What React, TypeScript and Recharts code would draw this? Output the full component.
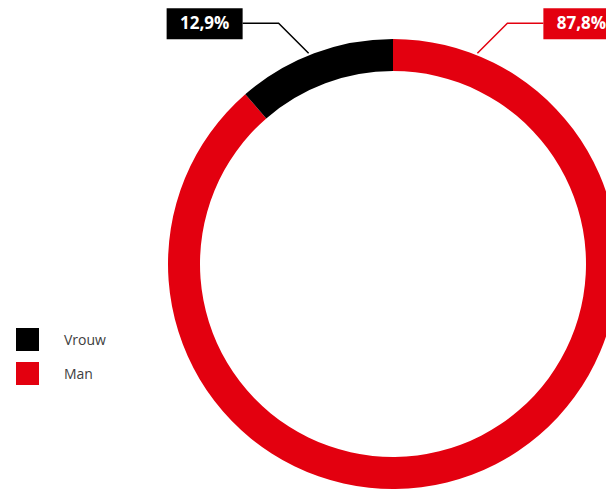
import React from "react";
import { PieChart, Pie, Cell } from "recharts";

const categories = ["Man", "Vrouw"];
// arc sizes as drawn in the picture (percent of the ring)
const values = [88.6, 11.4];
// label texts as printed in the picture
const labelTexts = ["87,8%", "12,9%"];
const colors = ["#E3000F", "#000000"];
const legendOrder = ["Vrouw", "Man"];

const data = categories.map((name, i) => ({ name, value: values[i], label: labelTexts[i] }));

const RAD = Math.PI / 180;

const renderLabel = (props: any) => {
  const { cx, cy, outerRadius, startAngle, endAngle, midAngle, index } = props;
  let a: number;
  if (index === 0) {
    const span = Math.abs(endAngle - startAngle);
    a = startAngle - (360 - span) / 2 - 1.3;
  } else {
    a = midAngle + 1.3;
  }
  const R = outerRadius + 2;
  const px = cx + R * Math.cos(a * RAD);
  const py = cy - R * Math.sin(a * RAD);
  const dir = Math.cos(a * RAD) >= 0 ? 1 : -1;
  const ex = px + dir * 30;
  const ey = py - 30;
  const hx = ex + dir * 36;
  const boxW = 76;
  const boxH = 31;
  const boxX = dir > 0 ? hx : hx - boxW;
  const boxY = ey - 15;
  const col = colors[index];
  return (
    <g key={`lbl-${index}`}>
      <polyline
        points={`${px},${py} ${ex},${ey} ${hx},${ey}`}
        fill="none"
        stroke={col}
        strokeWidth={1.5}
      />
      <rect x={boxX} y={boxY} width={boxW} height={boxH} fill={col} />
      <text
        x={boxX + boxW / 2}
        y={boxY + boxH / 2 + 1}
        textAnchor="middle"
        dominantBaseline="middle"
        fill="#FFFFFF"
        fontFamily="'Open Sans', sans-serif"
        fontWeight={700}
        fontSize={17}
      >
        {labelTexts[index]}
      </text>
    </g>
  );
};

const LegendBox = () => (
  <div
    style={{
      position: "absolute",
      left: 8,
      top: 314,
      fontFamily: "'Open Sans', sans-serif",
      fontSize: 14,
      color: "#404040",
    }}
  >
    {legendOrder.map((name) => {
      const idx = categories.indexOf(name);
      return (
        <div key={name} style={{ display: "flex", alignItems: "center", height: 34 }}>
          <div style={{ width: 23, height: 23, background: colors[idx] }} />
          <span style={{ marginLeft: 25 }}>{name}</span>
        </div>
      );
    })}
  </div>
);

export default function App() {
  return (
    <div style={{ width: 606, height: 483, position: "relative" }}>
      <PieChart width={606} height={483} margin={{ top: 0, right: 0, bottom: 0, left: 0 }}>
        <Pie
          data={data}
          dataKey="value"
          nameKey="name"
          cx={385}
          cy={256}
          outerRadius={225}
          innerRadius={193}
          startAngle={90}
          endAngle={-270}
          stroke="none"
          label={renderLabel}
          labelLine={false}
          isAnimationActive={false}
        >
          {data.map((d, i) => (
            <Cell key={d.name} fill={colors[i]} />
          ))}
        </Pie>
      </PieChart>
      <LegendBox />
    </div>
  );
}
